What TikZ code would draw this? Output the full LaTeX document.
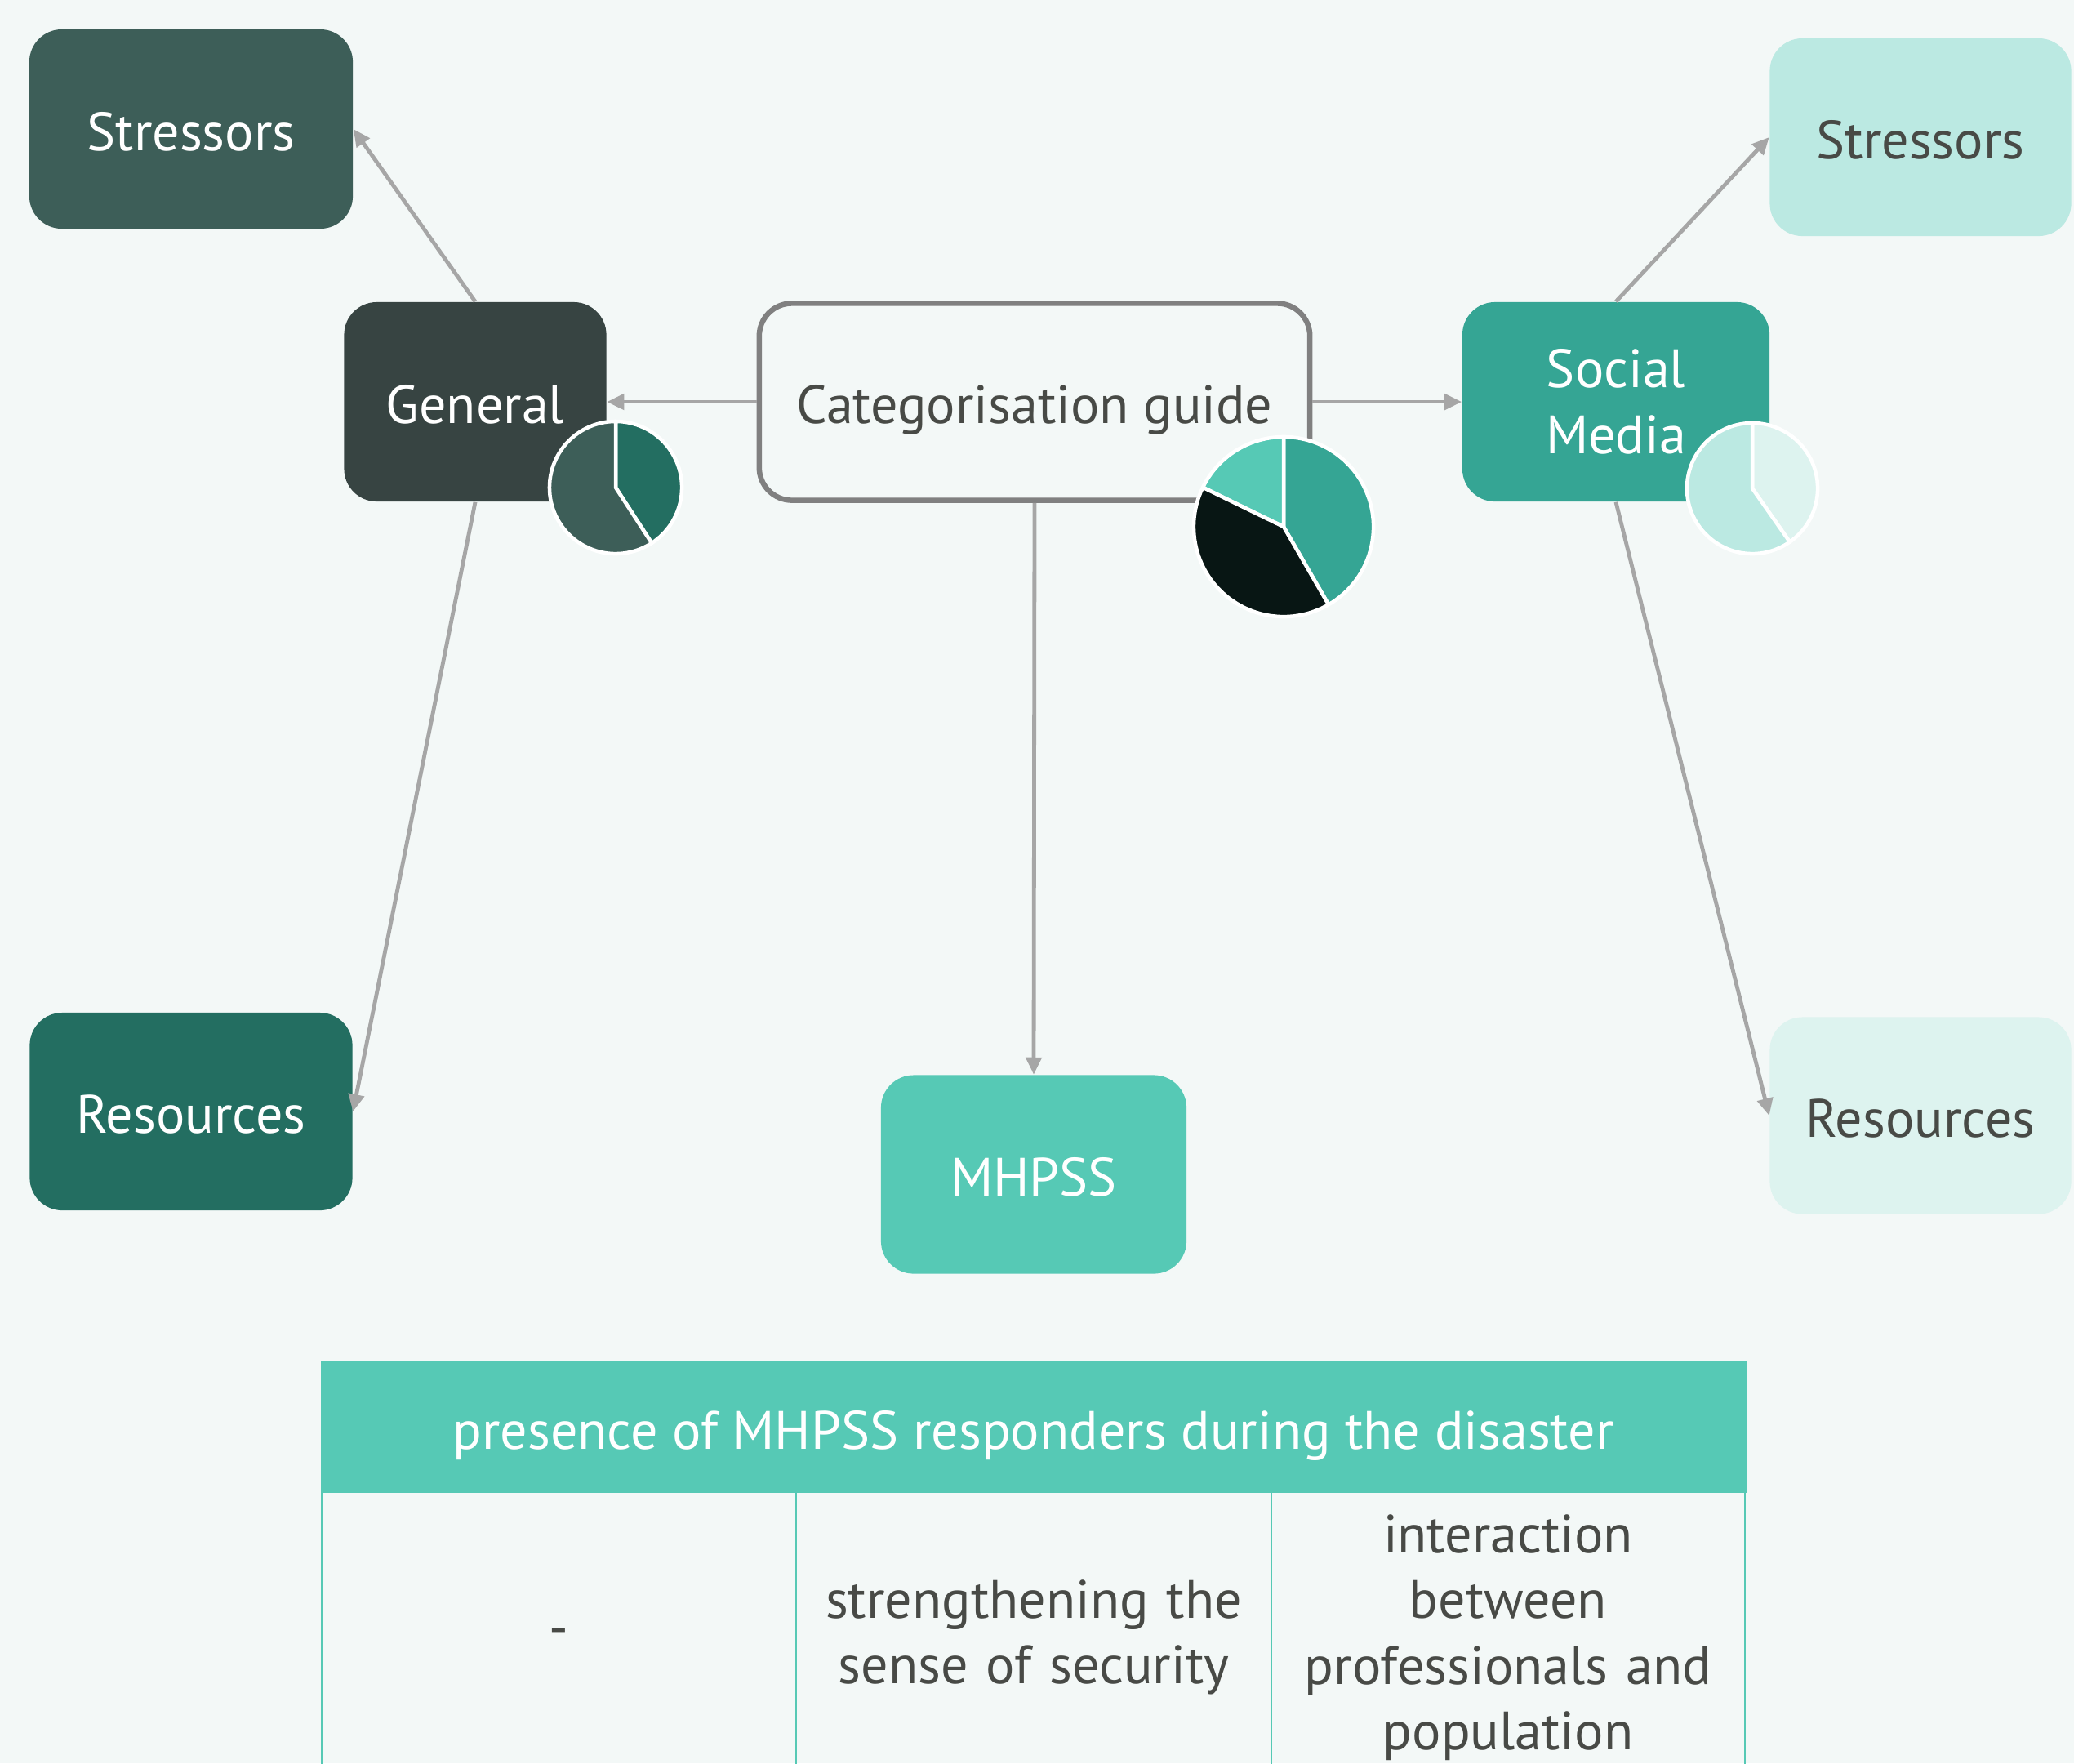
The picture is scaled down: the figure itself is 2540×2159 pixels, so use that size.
\documentclass[tikz,border=0pt]{standalone}
\usepackage{fontspec}
\setmainfont{PT Sans}
\usetikzlibrary{arrows.meta}
\definecolor{bg}{HTML}{F3F8F7}
\definecolor{cA}{HTML}{3D5E58}
\definecolor{cGen}{HTML}{374442}
\definecolor{cRes}{HTML}{236E61}
\definecolor{cMH}{HTML}{56C9B5}
\definecolor{cSM}{HTML}{35A594}
\definecolor{cRS}{HTML}{BBE9E2}
\definecolor{cRR}{HTML}{DDF3EF}
\definecolor{cBlk}{HTML}{081614}
\definecolor{arr}{HTML}{A6A6A6}
\definecolor{cBorder}{HTML}{808080}
\definecolor{txt}{HTML}{484A46}
\tikzset{
  box/.style={rounded corners=0.4cm, inner sep=0pt, align=center,
    font=\fontsize{18.8}{23}\selectfont},
  oneline/.style={text height=0.61cm, text depth=0.08cm},
  conn/.style={draw=arr, line width=0.048cm, -{Triangle[length=0.21cm,width=0.19cm]}},
  slice/.style={draw=white, line width=0.045cm, line join=round},
  cell/.style={draw=cMH, line width=0.02cm, inner sep=0pt, align=center,
    text=txt, font=\fontsize{18.8}{22.9}\selectfont, minimum height=3.56cm}
}
\begin{document}
\begin{tikzpicture}[x=0.01cm,y=-0.01cm]
\fill[bg] (0,0) rectangle (2540,2159);
\useasboundingbox (0,0) rectangle (2540,2159);

% nodes
\node[box, oneline, fill=cA, text=white, minimum width=3.96cm, minimum height=2.44cm] (lstress) at (234,158) {Stressors};
\node[box, oneline, fill=cGen, text=white, minimum width=3.21cm, minimum height=2.44cm] (general) at (582,492) {General};
\node[box, oneline, fill=cRes, text=white, minimum width=3.95cm, minimum height=2.42cm] (lres) at (234,1361) {Resources};
\node[box, oneline, draw=cBorder, line width=0.065cm, fill=bg, text=txt, minimum width=6.74cm, minimum height=2.41cm] (cat) at (1267,492) {Categorisation guide};
\node[box, oneline, fill=cMH, text=white, minimum width=3.74cm, minimum height=2.43cm] (mhpss) at (1266,1438) {MHPSS};
\node[box, fill=cSM, text=white, minimum width=3.76cm, minimum height=2.44cm] (social) at (1979,492) {Social\\Media};
\node[box, oneline, fill=cRS, text=txt, minimum width=3.69cm, minimum height=2.42cm] (rstress) at (2352,168) {Stressors};
\node[box, oneline, fill=cRR, text=txt, minimum width=3.69cm, minimum height=2.41cm] (rres) at (2352,1366) {Resources};

% connectors
\draw[conn] (cat.west) -- (general.east);
\draw[conn] (cat.east) -- (social.west);
\draw[conn] (cat.south) -- (mhpss.north);
\draw[conn] (general.north) -- (lstress.east);
\draw[conn] (general.south) -- (lres.east);
\draw[conn] (social.north) -- (rstress.west);
\draw[conn] (social.south) -- (rres.west);

% pies
\coordinate (pg) at (754,597);
\filldraw[slice, fill=cRes] (pg) -- ++(-57:0.81cm) arc[start angle=-57, end angle=90, radius=0.81cm] -- cycle;
\filldraw[slice, fill=cA] (pg) -- ++(90:0.81cm) arc[start angle=90, end angle=303, radius=0.81cm] -- cycle;

\coordinate (pc) at (1572,645);
\filldraw[slice, fill=cSM] (pc) -- ++(-60:1.1cm) arc[start angle=-60, end angle=90, radius=1.1cm] -- cycle;
\filldraw[slice, fill=cMH] (pc) -- ++(90:1.1cm) arc[start angle=90, end angle=154, radius=1.1cm] -- cycle;
\filldraw[slice, fill=cBlk] (pc) -- ++(154:1.1cm) arc[start angle=154, end angle=300, radius=1.1cm] -- cycle;

\coordinate (ps) at (2146,598);
\filldraw[slice, fill=cRR] (ps) -- ++(-55:0.8cm) arc[start angle=-55, end angle=90, radius=0.8cm] -- cycle;
\filldraw[slice, fill=cRS] (ps) -- ++(90:0.8cm) arc[start angle=90, end angle=305, radius=0.8cm] -- cycle;

% table
\node[draw=cMH, line width=0.02cm, fill=cMH, inner sep=0pt, minimum width=17.43cm, minimum height=1.59cm,
  text=white, font=\fontsize{18.8}{23}\selectfont, oneline] (thead) at (1265.5,1747.5) {presence of MHPSS responders during the disaster};
\node[cell, minimum width=5.81cm] (c1) at (684.5,2005) {\raisebox{-0.07cm}{-}};
\node[cell, minimum width=5.82cm, text width=5.6cm] (c2) at (1266,2005) {strengthening the\\sense of security};
\node[cell, minimum width=5.80cm, text width=5.6cm] (c3) at (1847,2005) {interaction\\between\\professionals and\\population};
\end{tikzpicture}
\end{document}
